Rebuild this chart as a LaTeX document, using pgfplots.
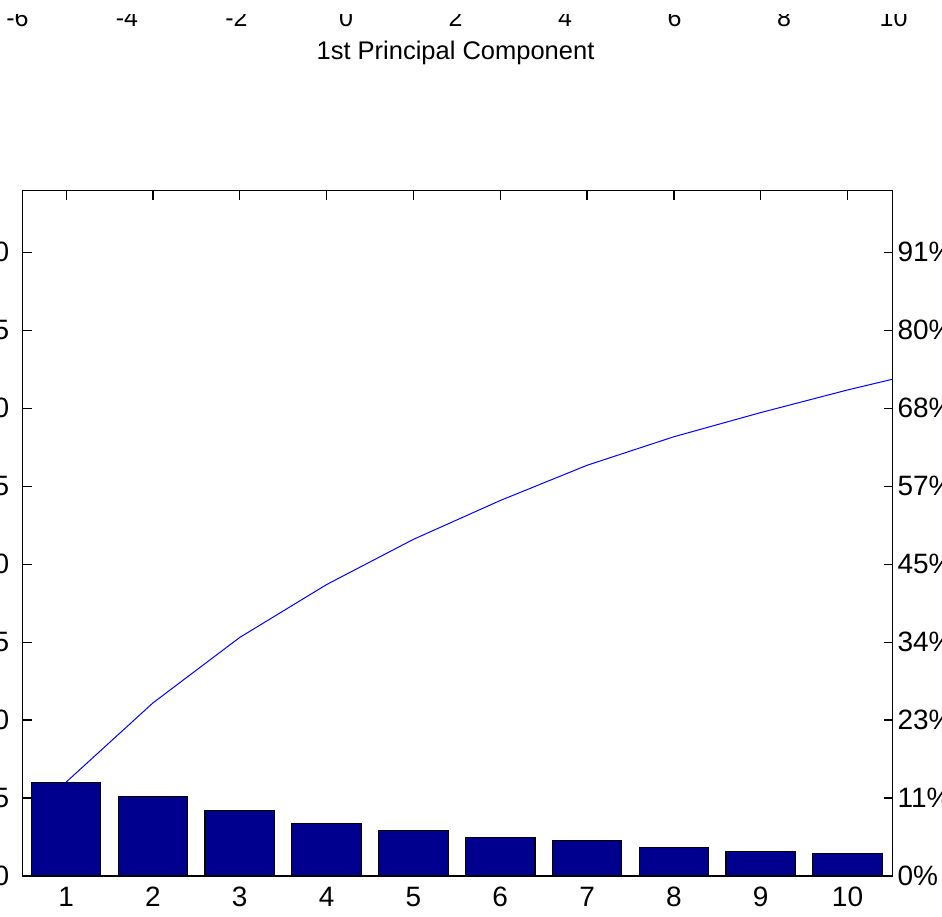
\documentclass[border=0pt]{standalone}
\usepackage{fontspec}
\setmainfont{Liberation Sans}
\usepackage{pgfplots}
\pgfplotsset{compat=1.18}
\definecolor{barnavy}{RGB}{0,0,143}
\begin{document}
\begin{tikzpicture}
\useasboundingbox (0,0) rectangle (942pt,917pt);
% upper subplot: only the bottom of its tick labels and its x label are visible
\begin{axis}[
  at={(17.5pt,930pt)}, anchor=south west, scale only axis,
  width=876pt, height=60pt,
  xmin=-6, xmax=10, ymin=0, ymax=1,
  axis x line*=bottom, axis y line=none,
  x axis line style={draw=none},
  xtick={-6,-4,-2,0,2,4,6,8,10}, xticklabels={-6,-4,-2,0,2,4,6,8,10},
  major tick length=0pt,
  xticklabel style={font=\fontsize{25}{28}\selectfont, anchor=north, inner sep=0pt, yshift=-22pt},
  xlabel={1st Principal Component},
  xlabel style={font=\fontsize{25.5}{30}\selectfont, at={(axis description cs:0.5,0)}, anchor=base, inner sep=0pt, yshift=-73pt},
]
\end{axis}
\fill[white] (0,903pt) rectangle (942pt,930pt);
% bars
\begin{axis}[
  at={(22.7pt,41pt)}, anchor=south west, scale only axis,
  width=870pt, height=685.3pt,
  xmin=0.5, xmax=10.52, ymin=0, ymax=43.95,
  axis line style={line width=1.2pt, black},
  tick style={line width=1.2pt, black},
  tick align=inside, major tick length=9pt,
  xtick={1,2,3,4,5,6,7,8,9,10}, xticklabels={1,2,3,4,5,6,7,8,9,10},
  xtick pos=right, xticklabel pos=left,
  ytick={0,5,10,15,20,25,30,35,40}, yticklabels={0,5,10,15,20,25,30,35,40},
  ytick pos=left,
  xticklabel style={font=\fontsize{28}{32}\selectfont, anchor=north, inner sep=0pt, yshift=-11pt},
  yticklabel style={font=\fontsize{28}{32}\selectfont, anchor=east, inner sep=0pt, xshift=-13.4pt},
]
\addplot[ybar, bar width=0.8, fill=barnavy, draw=black, line width=1.2pt] coordinates {
  (1,6.02) (2,5.08) (3,4.20) (4,3.39) (5,2.90) (6,2.49) (7,2.26) (8,1.83) (9,1.55) (10,1.45)
};
\end{axis}
% cumulative percentage axis
\begin{axis}[
  at={(22.7pt,41pt)}, anchor=south west, scale only axis,
  width=870pt, height=685.3pt,
  xmin=0.5, xmax=10.52, ymin=0, ymax=43.95,
  axis x line=none, axis y line*=right,
  axis line style={line width=1.2pt, black},
  tick style={line width=1.2pt, black},
  tick align=inside, major tick length=9pt,
  ytick={0,5,10,15,20,25,30,35,40},
  yticklabels={0\%,11\%,23\%,34\%,45\%,57\%,68\%,80\%,91\%},
  yticklabel style={font=\fontsize{28}{32}\selectfont, anchor=west, inner sep=0pt, xshift=4.6pt},
]
\addplot[blue, line width=1pt] coordinates {
  (1,6.02) (2,11.10) (3,15.30) (4,18.69) (5,21.59) (6,24.08) (7,26.34) (8,28.17) (9,29.72) (10,31.17) (11,32.5)
};
\end{axis}
\end{tikzpicture}
\end{document}
